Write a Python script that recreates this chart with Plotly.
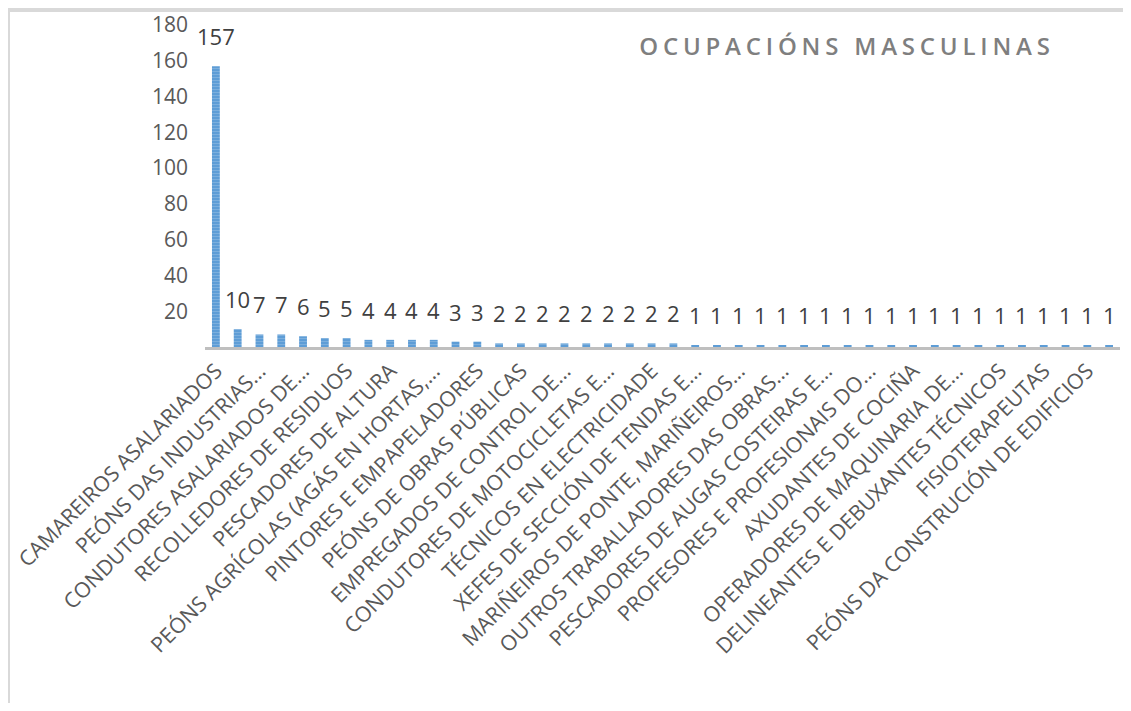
import plotly.graph_objects as go

# Ocupacións masculinas: one bar per occupation, every other one named on the axis
counts = [157, 10, 7, 7, 6, 5, 5, 4, 4, 4, 4, 3, 3,
          2, 2, 2, 2, 2, 2, 2, 2, 2,
          1, 1, 1, 1, 1, 1, 1, 1, 1, 1, 1, 1, 1, 1, 1, 1, 1, 1, 1, 1]

tick_labels = [
    "CAMAREIROS ASALARIADOS",
    "PEÓNS DAS INDUSTRIAS...",
    "CONDUTORES ASALARIADOS DE...",
    "RECOLLEDORES DE RESIDUOS",
    "PESCADORES DE ALTURA",
    "PEÓNS AGRÍCOLAS (AGÁS EN HORTAS,...",
    "PINTORES E EMPAPELADORES",
    "PEÓNS DE OBRAS PÚBLICAS",
    "EMPREGADOS DE CONTROL DE...",
    "CONDUTORES DE MOTOCICLETAS E...",
    "TÉCNICOS EN ELECTRICIDADE",
    "XEFES DE SECCIÓN DE TENDAS E...",
    "MARIÑEIROS DE PONTE, MARIÑEIROS...",
    "OUTROS TRABALLADORES DAS OBRAS...",
    "PESCADORES DE AUGAS COSTEIRAS E...",
    "PROFESORES E PROFESIONAIS DO...",
    "AXUDANTES DE COCIÑA",
    "OPERADORES DE MAQUINARIA DE...",
    "DELINEANTES E DEBUXANTES TÉCNICOS",
    "FISIOTERAPEUTAS",
    "PEÓNS DA CONSTRUCIÓN DE EDIFICIOS",
]

y_ticks = [20, 40, 60, 80, 100, 120, 140, 160, 180]

FONT = "Open Sans"
idx = list(range(len(counts)))

fig = go.Figure()
fig.add_trace(go.Bar(
    x=idx, y=counts, width=0.36,
    marker=dict(color="#5B9BD5", line=dict(width=0),
                pattern=dict(shape="-", fgcolor="#9DC3E6", bgcolor="#5B9BD5",
                             size=3, solidity=0.4)),
    hoverinfo="x+y",
))

# value labels over each bar
for i, v in zip(idx, counts):
    fig.add_annotation(x=i, y=v, text=str(v), showarrow=False,
                       yanchor="bottom", yshift=13,
                       font=dict(family=FONT, size=22, color="#404040"))

# page body adds an 8px margin, so the figure is a bit smaller than the window
fig.update_layout(
    width=1115, height=695,
    margin=dict(l=197, r=3, t=17, b=356, autoexpand=False),
    paper_bgcolor="white", plot_bgcolor="white",
    showlegend=False,
    font=dict(family=FONT, color="#595959"),
    title=dict(
        text='<span style="letter-spacing:4.8px">OCUPACIÓNS MASCULINAS</span>',
        font=dict(family=FONT, size=24, color="#7F7F7F", weight=600),
        xref="paper", x=0.7016, xanchor="center",
        yref="container", y=0.944, yanchor="middle",
        automargin=False,
    ),
    xaxis=dict(
        range=[-0.5, len(counts) - 0.5],
        tickmode="array", tickvals=idx[::2], ticktext=tick_labels,
        tickangle=-45, tickfont=dict(family=FONT, size=21.3, color="#595959"),
        ticklabeloverflow="allow", automargin=False,
        showline=True, linecolor="#BFBFBF", linewidth=3,
        showgrid=False, zeroline=False, ticks="",
    ),
    yaxis=dict(
        range=[0, 180], tickvals=y_ticks,
        tickfont=dict(family=FONT, size=21, color="#595959"),
        ticklabelstandoff=16, ticklabeloverflow="allow", automargin=False,
        showline=False, showgrid=False, zeroline=False, ticks="",
    ),
    shapes=[dict(type="rect", xref="paper", yref="paper",
                 x0=-0.2164, x1=1.2, y0=-1.5, y1=1.05,
                 line=dict(color="#D9D9D9", width=6), layer="below")],
)

fig.write_html("out.html")
